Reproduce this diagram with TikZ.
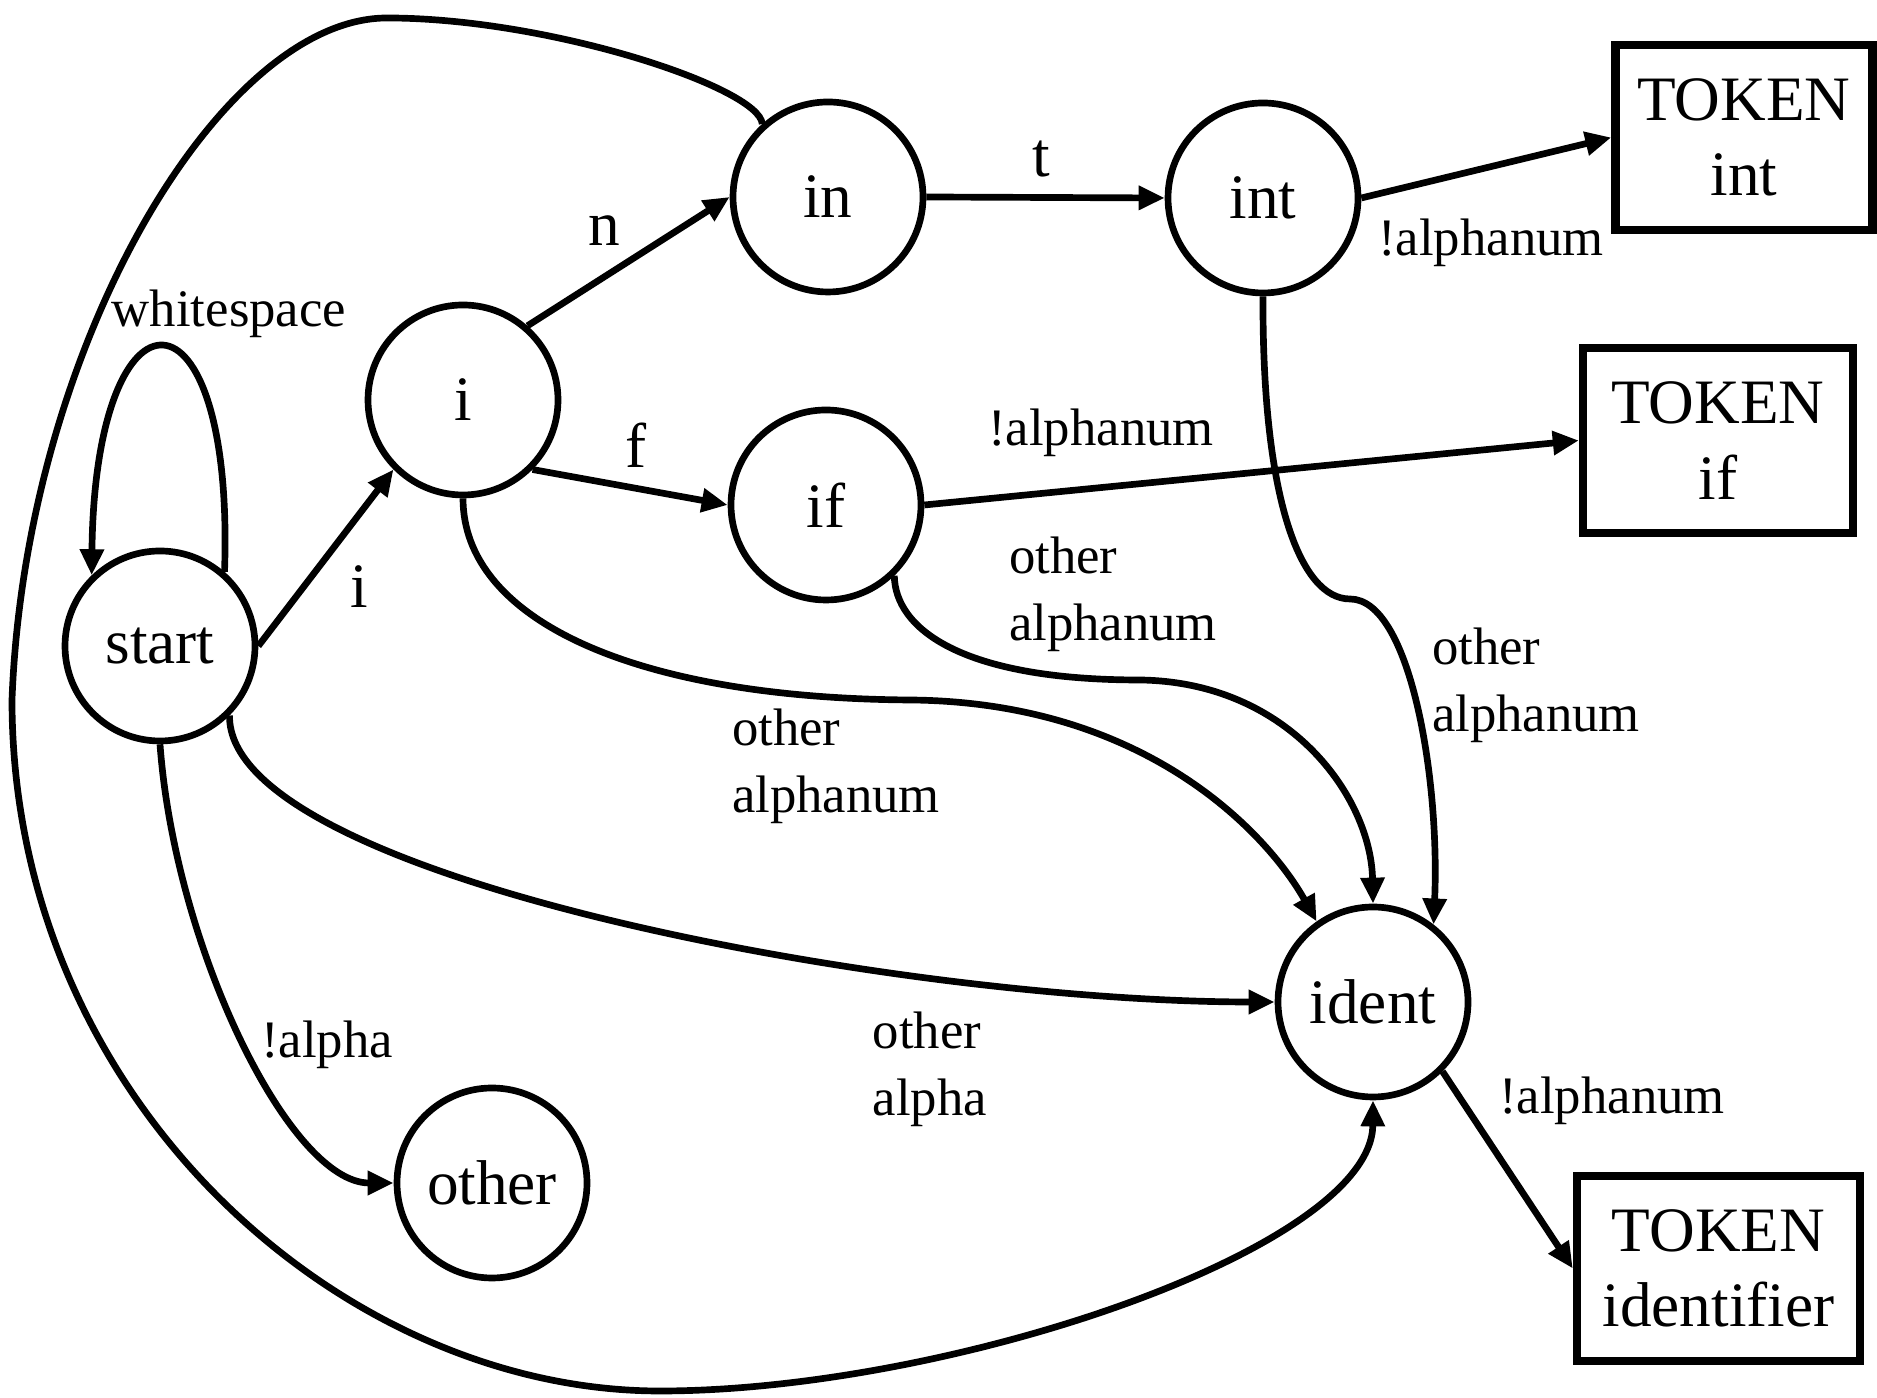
\documentclass[tikz,border=0pt]{standalone}
\usepackage{fontspec}
\setmainfont{Liberation Serif}
\usetikzlibrary{ arrows.meta, % For the filled triangle tips
               }
\tikzstyle{state} = [circle, minimum size=1.9cm, inner sep=0pt, draw=black, line width=1.9pt, font=\fontsize{18}{21.5}\selectfont]
\tikzstyle{token} = [rectangle, minimum height=1.85cm, inner sep=0pt, align=center, draw=black, line width=2.4pt, font=\fontsize{18}{21.5}\selectfont]
\tikzstyle{edge} = [-{Triangle[length=0.26cm, width=0.23cm]}, line width=1.9pt]
\tikzstyle{letter} = [font=\fontsize{18}{21.5}\selectfont]
\tikzstyle{cond} = [align=left, font=\fontsize{15}{19}\selectfont]

\begin{document}
\begin{tikzpicture}
  \useasboundingbox (0,0) rectangle (18.77,13.98);

  \node (start) [state] at (1.60, 7.52) {start};
  \node (st_i) [state] at (4.63, 9.98) {i};
  \node (st_in) [state] at (8.28, 12.01) {in};
  \node (st_int) [state] at (12.63, 12.00) {int};
  \node (st_if) [state] at (8.26, 8.93) {if};
  \node (ident) [state] at (13.73, 3.96) {ident};
  \node (other) [state] at (4.92, 2.15) {other};

  \node (tok_int) [token, minimum width=2.57cm] at (17.44, 12.605) {TOKEN\\int};
  \node (tok_if) [token, minimum width=2.70cm] at (17.18, 9.575) {TOKEN\\if};
  \node (tok_ident) [token, minimum width=2.83cm] at (17.185, 1.295) {TOKEN\\identifier};

  % loop on start
  \draw[edge] (start.49) .. controls (2.35, 11.25) and (0.95, 11.25) .. (start.134);
  \node (l_ws) [cond] at (2.29, 10.84) {whitespace};

  \draw[edge] (start.east) -- (st_i.225);
  \node (l_i) [letter] at (3.59, 8.11) {i};
  \draw[edge] (st_i.49) -- (st_in.west);
  \node (l_n) [letter] at (6.04, 11.67) {n};
  \draw[edge] (st_i.-45) -- (st_if.west);
  \node (l_f) [letter] at (6.36, 9.53) {f};
  \draw[edge] (st_in.east) -- (st_int.west);
  \node (l_t) [letter] at (10.41, 12.39) {t};

  \draw[edge] (st_int.east) -- (tok_int.west);
  \node (l_int_tok) [cond] at (14.91, 11.55) {!alphanum};
  \draw[edge] (st_if.east) -- (tok_if.west);
  \node (l_if_tok) [cond] at (11.01, 9.65) {!alphanum};
  \draw[edge] (ident.-45) -- (tok_ident.west);
  \node (l_ident_tok) [cond] at (16.12, 2.97) {!alphanum};

  % everything that falls back to ident
  \draw[edge] (st_int.south) .. controls (12.62, 9.0) and (13.0, 7.99) .. (13.5, 7.99)
    .. controls (14.1, 7.99) and (14.4, 6.2) .. (ident.52);
  \node (l_int_id) [cond] at (15.36, 7.13) {other\\alphanum};
  \draw[edge] (st_if.-46) .. controls (8.95, 7.7) and (9.6, 7.18) .. (11.4, 7.18)
    .. controls (12.9, 7.16) and (13.71, 6.0) .. (ident.north);
  \node (l_if_id) [cond] at (11.13, 8.04) {other\\alphanum};
  \draw[edge] (st_i.south) .. controls (4.63, 7.8) and (6.3, 7.0) .. (9.1, 6.98)
    .. controls (11.5, 6.96) and (12.7, 5.6) .. (ident.125);
  \node (l_i_id) [cond] at (8.36, 6.32) {other\\alphanum};
  \draw[edge] (start.-45) .. controls (2.27, 5.2) and (9.0, 3.96) .. (ident.west);
  \node (l_st_id) [cond] at (9.30, 3.29) {other\\alpha};

  \draw[edge] (start.south) .. controls (1.75, 4.5) and (2.9, 2.15) .. (other.west);
  \node (l_other) [cond] at (3.27, 3.53) {!alpha};

  % the long way round from in
  \draw[edge] (st_in.132) .. controls (7.6, 13.1) and (5.5, 13.8) .. (3.87, 13.80)
    .. controls (2.2, 13.80) and (0.25, 10.5) .. (0.12, 6.98)
    .. controls (0.12, 3.0) and (3.4, 0.07) .. (6.60, 0.07)
    .. controls (9.5, 0.07) and (13.72, 1.5) .. (ident.south);
\end{tikzpicture}
\end{document}
